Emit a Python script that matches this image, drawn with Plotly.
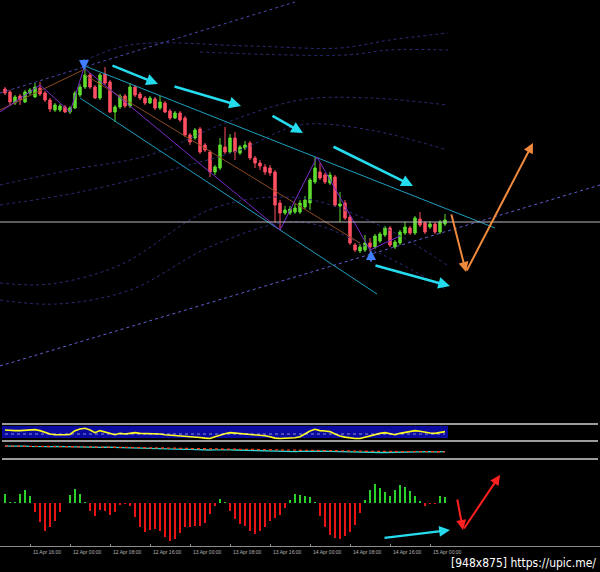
import plotly.graph_objects as go

# ---------------- data ----------------
bar_index = list(range(89))
opens = [511,508,497,504,498,507,503,512,507,500, 490,490,493,488,492,505,513,525,513,502,
         526,518,488,493,504,494,513,506,502,497, 501,492,497,489,482,487,482,465,462,471,
         455,448,428,432,453,448,462,447,452,457, 442,437,433,432,428,397,387,387,388,388,
         393,397,418,428,425,417,423,394,397,383, 355,349,350,357,353,359,365,372,353,357,
         367,372,367,381,377,373,376,368,376]
highs = [513,510,505,506,510,512,517,518,509,502, 497,496,495,494,509,516,535,527,515,527,
         533,520,495,506,506,517,515,508,504,504, 503,504,499,491,489,489,484,467,472,473,
         457,450,435,462,473,466,468,455,459,459, 444,440,436,435,430,400,394,394,396,400,
         404,422,443,437,427,428,425,408,400,385, 357,356,365,362,366,368,374,374,360,370,
         378,374,384,388,379,379,378,380,386]
lows = [505,494,495,495,497,505,502,504,498,488, 488,488,487,486,491,503,511,511,501,500,
        515,487,478,491,492,492,503,500,495,496, 490,490,487,480,481,478,463,455,460,446,
        448,423,425,430,446,446,440,445,450,440, 432,430,425,424,377,370,385,385,386,386,
        391,390,416,420,416,415,393,378,380,355, 348,347,348,348,351,357,363,353,351,355,
        365,365,365,373,366,371,366,366,374]
closes = [507,498,503,500,508,510,513,506,500,491, 495,494,488,492,507,513,525,513,502,525,
          517,488,493,504,494,513,505,502,497,502, 492,498,488,482,487,480,465,458,470,448,
          450,428,433,455,448,462,448,453,455,442, 437,434,428,427,395,387,390,391,392,397,
          400,420,432,422,418,425,395,396,382,357, 350,353,357,353,364,366,372,355,358,368,
          373,367,382,375,368,376,368,378,380]

hist = [9,1,1,9,13,7,-9,-19,-28,-24, -18,-9,0,8,14,9,1,-8,-13,-7,
        -8,-12,-9,-2,-1,-3,-14,-24,-29,-27, -26,-28,-34,-38,-36,-30,-24,-24,-23,-23,
        -20,-11,-3,4,0.5,-8,-16,-21,-23,-28, -31,-28,-24,-18,-15,-12,-5,3,9,8,
        7,6,0.5,-13,-24,-32,-35,-36,-33,-29, -22,-10,3,13,19,15,11,7,13,18,
        16,12,7,2,-3,-1,-1,7,6]

osc1 = [65,61,61,61,63,65,67,61,51,41, 37,35,37,39,61,71,75,65,49,61,
        53,41,37,45,41,45,49,45,45,45, 43,41,37,35,35,33,31,27,23,21,
        17,15,25,35,43,49,47,45,43,41, 37,35,31,25,17,15,15,15,19,25,
        43,59,69,61,59,55,41,29,23,17, 15,15,23,31,39,45,49,41,37,45,
        51,55,61,57,51,47,45,51,55]
osc1_band = [18, 88]
osc1_mid = 41

osc2_signal = [72,71,72,71,70,71,70,70,69,70, 69,68,69,68,68,67,68,67,66,67,
               66,66,65,65,64,64,63,63,62,62, 62,61,61,60,60,59,59,58,58,57,
               57,56,56,55,55,55,54,54,54,53, 53,52,52,51,51,50,50,49,49,48,
               48,48,47,47,47,46,46,45,45,44, 44,44,43,43,42,42,42,41,41,41,
               41,40,40,40,40,40,39,40,40]
osc2_main = [71,72,71,70,71,70,69,70,69,69, 70,69,68,68,67,68,67,66,66,65,
             66,65,64,64,63,62,62,61,60,60, 59,58,57,56,55,55,54,54,52,51,
             50,50,51,52,52,51,50,49,48,47, 46,45,44,43,42,41,40,40,41,42,
             43,44,44,44,43,42,41,40,39,38, 37,36,35,35,35,36,36,37,37,38,
             38,39,40,40,41,41,40,41,41]

tick_index = [-3, 5, 13, 21, 29, 37, 45, 53, 61, 69, 77, 85]
tick_labels = ["11 Apr 08:00", "11 Apr 16:00", "12 Apr 00:00", "12 Apr 08:00",
               "12 Apr 16:00", "13 Apr 00:00", "13 Apr 08:00", "13 Apr 16:00",
               "14 Apr 00:00", "14 Apr 08:00", "14 Apr 16:00", "15 Apr 00:00"]

# indicator lines in (bar index, price)
channel_upper_x, channel_upper_y = [16, 98], [534, 372]
channel_lower_x, channel_lower_y = [15, 74.4], [502, 306]
channel_mid_x, channel_mid_y = [16, 71], [525, 357]
left_trend_x, left_trend_y = [-1, 15.6], [490, 530]
zigzag_x = [-1, 7, 13, 15.8, 55, 62.4, 73, 79]
zigzag_y = [488, 515, 488, 532, 370, 443, 350, 364]
support_long_x, support_long_y = [-1, 119], [234, 415]
support_upper_x, support_upper_y = [-1, 58], [507, 598]
level_price = 378

envelopes = [
    ([15, 25, 49, 67, 77, 88.6], [537, 555, 554, 552, 560, 567]),
    ([39, 68, 77, 88.6], [548, 545, 550, 550]),
    ([-1, 13, 29, 43, 59, 73, 88.4], [415, 430, 445, 475, 500, 502, 495]),
    ([-1, 15, 33, 47, 59, 73, 88.4], [395, 408, 430, 450, 475, 470, 450]),
    ([-1, 9, 23, 41.8, 59, 75.6, 88.4], [317, 316, 335, 392, 402, 373, 335]),
    ([-1, 10.4, 25, 41.8, 59, 75.6, 88.4], [300, 296, 310, 355, 378, 345, 310]),
]

# drawn arrows: (tail_x, tail_y, head_x, head_y)
cyan_arrows_main = [(21.2, 535, 30.6, 516), (33.6, 514, 47.2, 494), (53.2, 485, 59.6, 467),
                    (65.4, 454, 81.6, 414), (73.8, 335, 89, 314)]
orange_path = [(89.2, 387), (92.2, 328), (105.6, 457)]
signal_down = (15.8, 542, 15.8, 530)
signal_up = (73.2, 337, 73.2, 350)
red_path_hist = [(90.4, 5), (91.6, -27), (99, 28)]
cyan_arrow_hist = (75.6, -35, 89, -27)

# ---------------- figure ----------------
H = 572.0
def dom(top_px, bot_px):
    return [(H - bot_px) / H, (H - top_px) / H]

fig = go.Figure()

for ex, ey in envelopes:
    fig.add_trace(go.Scatter(x=ex, y=ey, mode="lines", line=dict(color="#2c2c78", width=1, dash="dot"),
                             line_shape="spline", hoverinfo="skip"))

fig.add_trace(go.Scatter(x=support_long_x, y=support_long_y, mode="lines",
                         line=dict(color="#5f5fd0", width=1, dash="dot")))
fig.add_trace(go.Scatter(x=support_upper_x, y=support_upper_y, mode="lines",
                         line=dict(color="#4a4ab0", width=1, dash="dot")))
fig.add_trace(go.Scatter(x=channel_upper_x, y=channel_upper_y, mode="lines",
                         line=dict(color="#1e9fbf", width=1)))
fig.add_trace(go.Scatter(x=channel_lower_x, y=channel_lower_y, mode="lines",
                         line=dict(color="#1e9fbf", width=1)))
fig.add_trace(go.Scatter(x=channel_mid_x, y=channel_mid_y, mode="lines",
                         line=dict(color="#8a4a1e", width=1)))
fig.add_trace(go.Scatter(x=left_trend_x, y=left_trend_y, mode="lines",
                         line=dict(color="#8a4a1e", width=1)))
fig.add_trace(go.Scatter(x=zigzag_x, y=zigzag_y, mode="lines",
                         line=dict(color="#7a2cc8", width=1)))

fig.add_trace(go.Candlestick(x=bar_index, open=opens, high=highs, low=lows, close=closes,
                             increasing=dict(line=dict(color="#5fdc2e", width=1), fillcolor="#5fdc2e"),
                             decreasing=dict(line=dict(color="#ff4f62", width=1), fillcolor="#ff4f62"),
                             whiskerwidth=0))

# oscillator 1
fig.add_trace(go.Scatter(x=bar_index, y=osc1, mode="lines", line=dict(color="#ffff1a", width=1.6),
                         xaxis="x", yaxis="y2"))
fig.add_trace(go.Scatter(x=bar_index, y=[osc1_mid] * len(bar_index), mode="lines",
                         line=dict(color="rgba(255,255,255,0.55)", width=1, dash="dot"),
                         xaxis="x", yaxis="y2"))
# oscillator 2
fig.add_trace(go.Scatter(x=bar_index, y=osc2_main, mode="lines", line=dict(color="#2ad8d0", width=1.3),
                         xaxis="x", yaxis="y3"))
fig.add_trace(go.Scatter(x=bar_index, y=osc2_signal, mode="lines",
                         line=dict(color="#ff3a1a", width=1.3, dash="dot"),
                         xaxis="x", yaxis="y3"))
# histogram
fig.add_trace(go.Bar(x=bar_index, y=hist, width=0.38,
                     marker=dict(color=["#2bd12b" if v > 0 else "#e81414" for v in hist], line=dict(width=0)),
                     xaxis="x", yaxis="y4"))

shapes = []
shapes.append(dict(type="rect", xref="x", yref="y2", x0=-0.6, x1=88.6, y0=osc1_band[0], y1=osc1_band[1],
                   fillcolor="#0a0aa0", line=dict(width=0), layer="below"))
shapes.append(dict(type="line", xref="paper", yref="y", x0=0, x1=1, y0=level_price, y1=level_price,
                   line=dict(color="#b8b8c0", width=1)))
for ypx in (424, 441, 459):
    yp = (H - ypx) / H
    shapes.append(dict(type="line", xref="paper", yref="paper", x0=2 / 600, x1=598 / 600, y0=yp, y1=yp,
                       line=dict(color="#9c9c9c", width=2)))

annotations = []
def arrow(tx, ty, hx, hy, color, width, yref="y", head=2, size=1.0):
    annotations.append(dict(x=hx, y=hy, ax=tx, ay=ty, xref="x", yref=yref, axref="x", ayref=yref,
                            showarrow=True, text="", arrowcolor=color, arrowwidth=width,
                            arrowhead=head, arrowsize=size))

for a in cyan_arrows_main:
    arrow(*a, color="#25dcee", width=2.6, size=0.9)
arrow(orange_path[0][0], orange_path[0][1], orange_path[1][0], orange_path[1][1], "#f08a3c", 2, size=1.0)
arrow(orange_path[1][0], orange_path[1][1], orange_path[2][0], orange_path[2][1], "#f08a3c", 2, size=1.0)
arrow(*signal_down, color="#3f7fff", width=2, size=1.0)
arrow(*signal_up, color="#3f7fff", width=2, size=1.0)
arrow(red_path_hist[0][0], red_path_hist[0][1], red_path_hist[1][0], red_path_hist[1][1], "#ff2020", 2, yref="y4")
arrow(red_path_hist[1][0], red_path_hist[1][1], red_path_hist[2][0], red_path_hist[2][1], "#ff2020", 2, yref="y4")
arrow(*cyan_arrow_hist, color="#25dcee", width=2.4, yref="y4", size=0.9)

for ti, tl in zip(tick_index, tick_labels):
    annotations.append(dict(x=ti, y=(H - 546.5) / H, xref="x", yref="paper", text=tl, showarrow=False,
                            xanchor="left", yanchor="top", xshift=1,
                            font=dict(family="Liberation Sans", size=5, color="#b4b4b4")))

annotations.append(dict(x=598 / 600, y=(H - 563) / H, xref="paper", yref="paper",
                        text="[948x875] https://upic.me/", showarrow=False, xanchor="right", yanchor="middle",
                        font=dict(family="DejaVu Sans Condensed, DejaVu Sans", size=12, color="#ffffff")))

hidden = dict(visible=False, showgrid=False, zeroline=False, fixedrange=True)
fig.update_layout(
    width=600, height=572, margin=dict(l=0, r=0, t=0, b=0),
    paper_bgcolor="black", plot_bgcolor="black", showlegend=False, bargap=0,
    xaxis=dict(range=[-1, 119], anchor="y4", showgrid=False, zeroline=False, rangeslider=dict(visible=False),
               showline=True, linecolor="#8c8c8c", linewidth=1, tickvals=tick_index, ticks="inside",
               ticklen=2, tickcolor="#8c8c8c", showticklabels=False),
    yaxis=dict(domain=dom(0, 415), range=[185, 600], **hidden),
    yaxis2=dict(domain=dom(424, 441), range=[0, 100], **hidden),
    yaxis3=dict(domain=dom(441, 459), range=[0, 100], **hidden),
    yaxis4=dict(domain=dom(470, 546), range=[-43, 33], **hidden),
    shapes=shapes, annotations=annotations,
)

fig.write_html("out.html", config={"displayModeBar": False},
               post_script="document.body.style.margin='0';document.body.style.background='black';")
